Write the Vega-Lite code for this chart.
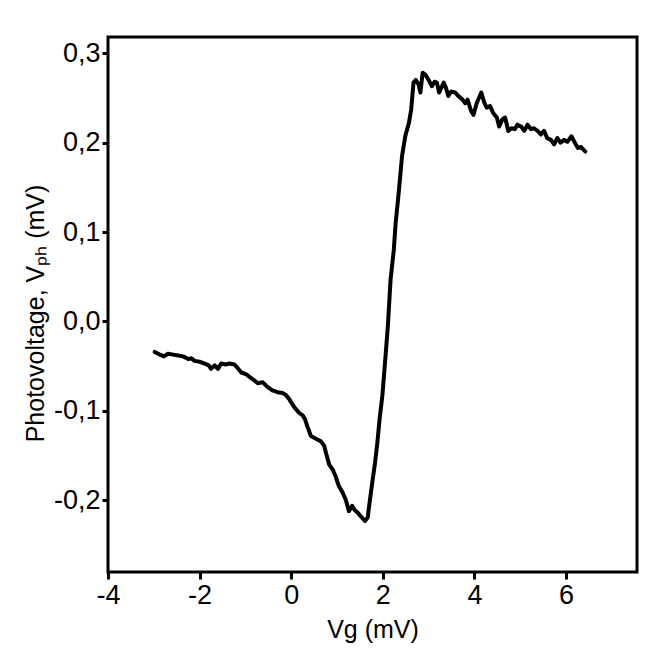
{
  "$schema": "https://vega.github.io/schema/vega-lite/v6.json",
  "width": 529,
  "height": 535,
  "autosize": {"type": "none"},
  "padding": {"left": 108, "top": 37, "right": 14, "bottom": 81},
  "background": "white",
  "config": {
    "view": {"stroke": "black", "strokeWidth": 3},
    "font": "Liberation Sans",
    "axis": {
      "domain": false,
      "grid": false,
      "ticks": true,
      "tickColor": "black",
      "tickWidth": 3,
      "labelColor": "black",
      "labelFont": "Liberation Sans",
      "labelFontSize": 27,
      "labelFlush": false,
      "labelOverlap": false,
      "titleColor": "black",
      "titleFont": "Liberation Sans",
      "titleFontSize": 25,
      "titleFontWeight": "normal"
    }
  },
  "data": {
    "values": [
      {"x": -2.98, "y": -0.034}, {"x": -2.87, "y": -0.037}, {"x": -2.78, "y": -0.039},
      {"x": -2.69, "y": -0.036}, {"x": -2.58, "y": -0.037}, {"x": -2.47, "y": -0.038},
      {"x": -2.36, "y": -0.039}, {"x": -2.25, "y": -0.042}, {"x": -2.18, "y": -0.041},
      {"x": -2.11, "y": -0.044}, {"x": -2.00, "y": -0.045}, {"x": -1.89, "y": -0.047},
      {"x": -1.80, "y": -0.049}, {"x": -1.75, "y": -0.053}, {"x": -1.67, "y": -0.049},
      {"x": -1.60, "y": -0.053}, {"x": -1.53, "y": -0.047}, {"x": -1.43, "y": -0.048},
      {"x": -1.35, "y": -0.047}, {"x": -1.24, "y": -0.048}, {"x": -1.17, "y": -0.052},
      {"x": -1.09, "y": -0.057}, {"x": -0.98, "y": -0.059}, {"x": -0.91, "y": -0.062},
      {"x": -0.80, "y": -0.066}, {"x": -0.73, "y": -0.069}, {"x": -0.62, "y": -0.068},
      {"x": -0.52, "y": -0.073}, {"x": -0.41, "y": -0.077}, {"x": -0.30, "y": -0.079},
      {"x": -0.19, "y": -0.080}, {"x": -0.12, "y": -0.082}, {"x": -0.04, "y": -0.087},
      {"x": 0.07, "y": -0.096}, {"x": 0.17, "y": -0.102}, {"x": 0.25, "y": -0.105},
      {"x": 0.30, "y": -0.109}, {"x": 0.35, "y": -0.117}, {"x": 0.43, "y": -0.128},
      {"x": 0.54, "y": -0.131}, {"x": 0.65, "y": -0.134}, {"x": 0.72, "y": -0.139},
      {"x": 0.77, "y": -0.149}, {"x": 0.83, "y": -0.160}, {"x": 0.90, "y": -0.165},
      {"x": 0.97, "y": -0.173}, {"x": 1.04, "y": -0.184}, {"x": 1.12, "y": -0.191},
      {"x": 1.19, "y": -0.199}, {"x": 1.26, "y": -0.212}, {"x": 1.33, "y": -0.206},
      {"x": 1.39, "y": -0.211}, {"x": 1.46, "y": -0.214}, {"x": 1.54, "y": -0.219},
      {"x": 1.61, "y": -0.223}, {"x": 1.67, "y": -0.219}, {"x": 1.71, "y": -0.203},
      {"x": 1.77, "y": -0.180}, {"x": 1.83, "y": -0.158}, {"x": 1.88, "y": -0.136},
      {"x": 1.93, "y": -0.109}, {"x": 1.99, "y": -0.083}, {"x": 2.05, "y": -0.045},
      {"x": 2.11, "y": -0.005}, {"x": 2.17, "y": 0.047}, {"x": 2.24, "y": 0.080},
      {"x": 2.28, "y": 0.110}, {"x": 2.33, "y": 0.135}, {"x": 2.38, "y": 0.162},
      {"x": 2.42, "y": 0.185}, {"x": 2.49, "y": 0.207}, {"x": 2.57, "y": 0.222},
      {"x": 2.62, "y": 0.237}, {"x": 2.67, "y": 0.267}, {"x": 2.72, "y": 0.270},
      {"x": 2.78, "y": 0.265}, {"x": 2.82, "y": 0.256}, {"x": 2.87, "y": 0.278},
      {"x": 2.93, "y": 0.276}, {"x": 3.00, "y": 0.270}, {"x": 3.07, "y": 0.263},
      {"x": 3.13, "y": 0.268}, {"x": 3.18, "y": 0.267}, {"x": 3.23, "y": 0.256},
      {"x": 3.33, "y": 0.267}, {"x": 3.38, "y": 0.261}, {"x": 3.43, "y": 0.252},
      {"x": 3.49, "y": 0.257}, {"x": 3.58, "y": 0.256}, {"x": 3.65, "y": 0.252},
      {"x": 3.74, "y": 0.248}, {"x": 3.80, "y": 0.244}, {"x": 3.85, "y": 0.248},
      {"x": 3.93, "y": 0.235}, {"x": 3.98, "y": 0.231}, {"x": 4.05, "y": 0.244},
      {"x": 4.15, "y": 0.256}, {"x": 4.22, "y": 0.244}, {"x": 4.27, "y": 0.239},
      {"x": 4.34, "y": 0.241}, {"x": 4.41, "y": 0.233}, {"x": 4.49, "y": 0.228},
      {"x": 4.54, "y": 0.218}, {"x": 4.61, "y": 0.226}, {"x": 4.67, "y": 0.228},
      {"x": 4.74, "y": 0.213}, {"x": 4.81, "y": 0.216}, {"x": 4.88, "y": 0.215},
      {"x": 4.94, "y": 0.220}, {"x": 5.02, "y": 0.218}, {"x": 5.09, "y": 0.213},
      {"x": 5.16, "y": 0.220}, {"x": 5.23, "y": 0.215}, {"x": 5.30, "y": 0.216},
      {"x": 5.38, "y": 0.213}, {"x": 5.45, "y": 0.209}, {"x": 5.52, "y": 0.213},
      {"x": 5.59, "y": 0.205}, {"x": 5.67, "y": 0.203}, {"x": 5.74, "y": 0.198},
      {"x": 5.81, "y": 0.205}, {"x": 5.88, "y": 0.200}, {"x": 5.96, "y": 0.203},
      {"x": 6.03, "y": 0.201}, {"x": 6.12, "y": 0.207}, {"x": 6.19, "y": 0.200},
      {"x": 6.26, "y": 0.194}, {"x": 6.33, "y": 0.195}, {"x": 6.42, "y": 0.190}
    ]
  },
  "mark": {"type": "line", "color": "black", "strokeWidth": 4, "strokeJoin": "round", "strokeCap": "round"},
  "encoding": {
    "x": {
      "field": "x",
      "type": "quantitative",
      "scale": {"domain": [-4, 7.55], "nice": false, "zero": false},
      "axis": {
        "values": [-4, -2, 0, 2, 4, 6],
        "labelExpr": "(datum.value < 0 ? '-' : '') + abs(datum.value)",
        "tickSize": 7,
        "labelPadding": 3,
        "title": "Vg (mV)",
        "titleY": 65,
        "titleBaseline": "alphabetic"
      }
    },
    "y": {
      "field": "y",
      "type": "quantitative",
      "scale": {"domain": [-0.28, 0.318], "nice": false, "zero": false},
      "axis": {
        "values": [-0.2, -0.1, 0, 0.1, 0.2, 0.3],
        "labelExpr": "(datum.value < 0 ? '-' : '') + replace(format(abs(datum.value), '.1f'), '.', ',')",
        "tickSize": 6,
        "labelPadding": 2,
        "title": "Photovoltage,  Vₚₕ (mV)",
        "titleX": -73,
        "titleY": 276,
        "titleAngle": -90,
        "titleAlign": "center",
        "titleBaseline": "middle"
      }
    }
  }
}
